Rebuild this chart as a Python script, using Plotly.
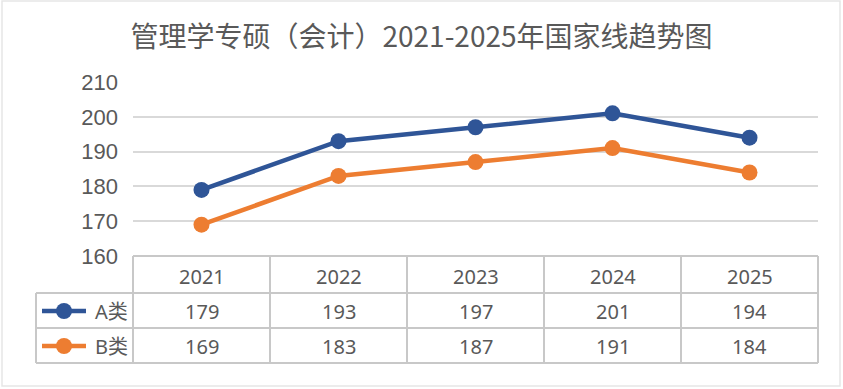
import plotly.graph_objects as go

W, H = 843, 389

title = "管理学专硕（会计）2021-2025年国家线趋势图"
years = ["2021", "2022", "2023", "2024", "2025"]
series_names = ["A类", "B类"]
a_vals = [179, 193, 197, 201, 194]
b_vals = [169, 183, 187, 191, 184]
colors = ["#2F5597", "#ED7D31"]
y_ticks = [160, 170, 180, 190, 200, 210]

def px(x):
    return x / W

def py(y):
    return 1 - y / H

x_idx = list(range(len(years)))

fig = go.Figure()
for name, vals, c in zip(series_names, [a_vals, b_vals], colors):
    fig.add_trace(go.Scatter(
        x=x_idx, y=vals, name=name, mode="lines+markers",
        line=dict(color=c, width=4.5),
        marker=dict(color=c, size=16),
        showlegend=False, hoverinfo="skip",
    ))

grid = "#D9D9D9"
border = "#C8C8C8"
txt = "#595959"
tfont = "Noto Sans, Noto Sans CJK SC"

shapes = []
shapes.append(dict(type="rect", xref="paper", yref="paper",
                   x0=px(2), x1=px(840), y0=py(386), y1=py(1),
                   line=dict(color="#E6E6E6", width=1.5)))
col_edges = [133, 270, 407, 544, 681, 818]
rows_y = [256, 293, 328, 363]
shapes.append(dict(type="line", xref="paper", yref="paper",
                   x0=px(133), x1=px(818), y0=py(256), y1=py(256),
                   line=dict(color=border, width=2)))
for yy in rows_y[1:]:
    shapes.append(dict(type="line", xref="paper", yref="paper",
                       x0=px(36), x1=px(818), y0=py(yy), y1=py(yy),
                       line=dict(color=border, width=2)))
for xx in col_edges:
    shapes.append(dict(type="line", xref="paper", yref="paper",
                       x0=px(xx), x1=px(xx), y0=py(256), y1=py(363),
                       line=dict(color=border, width=2)))
shapes.append(dict(type="line", xref="paper", yref="paper",
                   x0=px(36), x1=px(36), y0=py(293), y1=py(363),
                   line=dict(color=border, width=2)))

annotations = []
for i, yr in enumerate(years):
    annotations.append(dict(x=i, xref="x", y=py(276), yref="paper",
                            text=yr, showarrow=False,
                            font=dict(family=tfont, size=20, color=txt),
                            xanchor="center", yanchor="middle"))
row_centers = [311, 346]
for r, (name, vals, c) in enumerate(zip(series_names, [a_vals, b_vals], colors)):
    yc = row_centers[r]
    for i, v in enumerate(vals):
        annotations.append(dict(x=i, xref="x", y=py(yc), yref="paper",
                                text=str(v), showarrow=False,
                                font=dict(family=tfont, size=20, color=txt),
                                xanchor="center", yanchor="middle"))
    shapes.append(dict(type="line", xref="paper", yref="paper",
                       x0=px(42), x1=px(86), y0=py(yc), y1=py(yc),
                       line=dict(color=c, width=4.5)))
    shapes.append(dict(type="circle", xref="paper", yref="paper",
                       x0=px(56), x1=px(72), y0=py(yc - 8), y1=py(yc + 8),
                       fillcolor=c, line=dict(color=c, width=0)))
    annotations.append(dict(x=px(130), xref="paper", y=py(yc), yref="paper",
                            text=name, showarrow=False,
                            font=dict(family=tfont, size=20, color=txt),
                            xanchor="right", yanchor="middle"))

fig.update_layout(
    width=W, height=H,
    margin=dict(l=0, r=0, t=0, b=0),
    paper_bgcolor="white", plot_bgcolor="white",
    title=dict(text=title, x=0.5, xanchor="center", y=py(37), yanchor="middle",
               font=dict(family="Noto Sans CJK SC", size=28, color=txt)),
    xaxis=dict(domain=[px(133), px(818)], range=[-0.5, len(years) - 0.5],
               showticklabels=False, showgrid=False, zeroline=False,
               showline=False, ticks="", automargin=False),
    yaxis=dict(domain=[py(256), py(82)], range=[160, 210],
               tickvals=y_ticks, showgrid=True, gridcolor=grid, gridwidth=1.5,
               zeroline=False, showline=False, ticks="", automargin=False,
               ticklabelstandoff=14,
               tickfont=dict(family="Liberation Sans, Arial", size=22, color=txt)),
    shapes=shapes, annotations=annotations,
)

fig.write_html("out.html", config={"displayModeBar": False},
               post_script="document.body.style.margin='0';document.body.style.overflow='hidden';")
